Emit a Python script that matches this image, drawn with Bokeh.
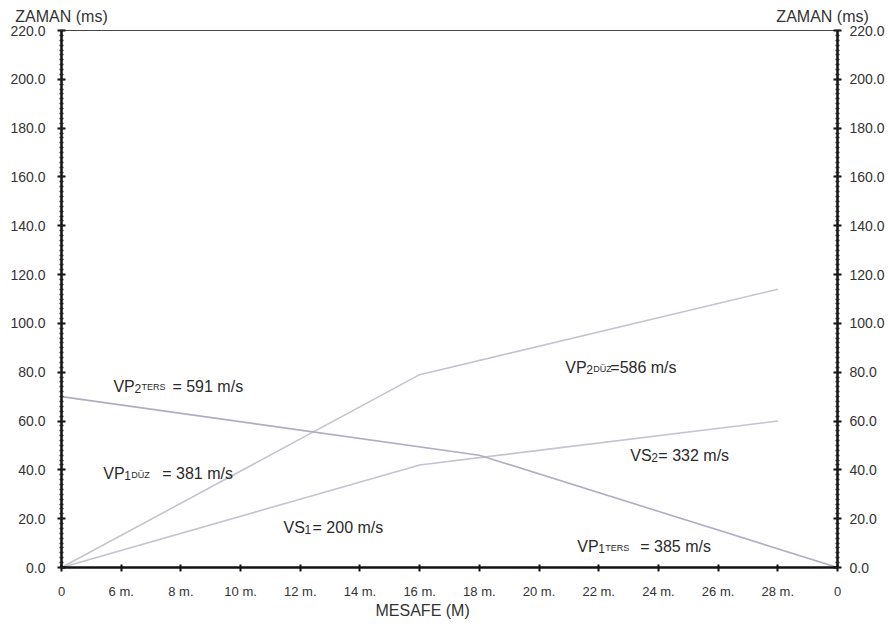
from bokeh.plotting import figure
from bokeh.models import Range1d, LinearAxis, FixedTicker, NumeralTickFormatter, ColumnDataSource
from bokeh.core.properties import value
from bokeh.embed import file_html
from bokeh.resources import INLINE

FONT = "Liberation Sans"

# distance stations along the spread (index positions 0..13)
x_tick_labels = ["0", "6 m.", "8 m.", "10 m.", "12 m.", "14 m.", "16 m.",
                 "18 m.", "20 m.", "22 m.", "24 m.", "26 m.", "28 m.", "0"]

# travel-time branches (station index, time in ms)
vp_forward_x = [0, 6, 12]
vp_forward_t = [0.0, 79.0, 114.0]

vs_x = [0, 6, 12]
vs_t = [0.0, 42.0, 60.0]

vp_reverse_x = [0, 7, 13]
vp_reverse_t = [70.0, 46.0, 0.0]

# velocity annotations
ann_main = ["VP", "VP", "VP", "VS", "VS", "VP"]
ann_digit = ["2", "1", "2", "2", "1", "1"]
ann_suffix = ["TERS", "DÜZ", "DÜZ", "", "", "TERS"]
ann_value = ["= 591  m/s", "= 381  m/s", "=586  m/s", "= 332  m/s", "= 200  m/s", "= 385  m/s"]

# anchor of each annotation (station index, ms) and offset of the value part (px)
ann_pos_x = [0.87, 0.70, 8.44, 9.53, 3.72, 8.64]
ann_pos_y = [74.2, 38.5, 81.9, 45.9, 16.4, 8.6]
ann_value_dx = [59, 59, 45, 28, 29, 63]

time_title = "ZAMAN (ms)"
dist_title = "MESAFE (M)"

Y_TICKS = list(range(0, 221, 20))
Y_MINOR = list(range(0, 221, 2))

p = figure(width=888, height=640, output_backend="svg", toolbar_location=None,
           x_range=Range1d(0, 13), y_range=Range1d(0, 220),
           min_border_left=61, min_border_right=51, min_border_top=30, min_border_bottom=73)
p.background_fill_color = "white"
p.border_fill_color = "white"
p.outline_line_color = "#444444"
p.outline_line_width = 1
p.xgrid.visible = False
p.ygrid.visible = False


def style_y(ax):
    ax.ticker = FixedTicker(ticks=Y_TICKS, minor_ticks=Y_MINOR)
    ax.formatter = NumeralTickFormatter(format="0.0")
    ax.axis_line_width = 2.5
    ax.axis_line_color = "#111111"
    ax.major_tick_in = 4
    ax.major_tick_out = 4
    ax.major_tick_line_width = 2
    ax.major_tick_line_color = "#111111"
    ax.minor_tick_in = 2
    ax.minor_tick_out = 2
    ax.minor_tick_line_width = 1.5
    ax.minor_tick_line_color = "#222222"
    ax.major_label_text_font = FONT
    ax.major_label_text_font_size = "14px"
    ax.major_label_text_color = "#333333"


style_y(p.yaxis[0])
p.yaxis[0].major_label_standoff = 12

ry = LinearAxis()
style_y(ry)
ry.major_label_standoff = 8
p.add_layout(ry, "right")

xa = p.xaxis[0]
xa.ticker = FixedTicker(ticks=list(range(len(x_tick_labels))))
xa.major_label_overrides = {i: t for i, t in enumerate(x_tick_labels)}
xa.axis_line_width = 2.5
xa.axis_line_color = "#111111"
xa.major_tick_in = 3
xa.major_tick_out = 4
xa.major_tick_line_width = 2
xa.major_tick_line_color = "#111111"
xa.minor_tick_line_color = None
xa.major_label_standoff = 12
xa.major_label_text_font = FONT
xa.major_label_text_font_size = "13px"
xa.major_label_text_color = "#333333"


def caption_axis(ticks, labels, standoff):
    """A bare axis used only to place caption texts outside the plot area."""
    ax = LinearAxis(ticker=FixedTicker(ticks=ticks, minor_ticks=[]))
    ax.major_label_overrides = {t: s for t, s in zip(ticks, labels)}
    ax.axis_line_color = None
    ax.major_tick_line_color = None
    ax.minor_tick_line_color = None
    ax.major_tick_in = 0
    ax.major_tick_out = 0
    ax.major_label_standoff = standoff
    ax.major_label_text_font = FONT
    ax.major_label_text_font_size = "16px"
    ax.major_label_text_color = "#333333"
    return ax


# time captions over both vertical axes
p.add_layout(caption_axis([0, 12.75], [time_title, time_title], 6), "above")
# distance caption under the station labels
p.add_layout(caption_axis([6.05], [dist_title], 0), "below")

# travel-time curves
p.line(vp_forward_x, vp_forward_t, line_color="#c4c4ce", line_width=1.6)
p.line(vs_x, vs_t, line_color="#c4c4ce", line_width=1.6)
p.line(vp_reverse_x, vp_reverse_t, line_color="#aeaec2", line_width=1.6)

# velocity labels built from a main part, subscript digit/suffix and value
px, py, pt, pdx, pdy, psz = [], [], [], [], [], []
for i in range(len(ann_main)):
    x0, y0 = ann_pos_x[i], ann_pos_y[i]
    parts = [(ann_main[i], 0, 0, "16px"),
             (ann_digit[i], 21, 2, "12px")]
    if ann_suffix[i]:
        parts.append((ann_suffix[i], 28, 1, "9px"))
    parts.append((ann_value[i], ann_value_dx[i], 0, "16px"))
    for t, dx, dy, sz in parts:
        px.append(x0)
        py.append(y0)
        pt.append(t)
        pdx.append(dx)
        pdy.append(dy)
        psz.append(sz)

src = ColumnDataSource(dict(x=px, y=py, text=pt, dx=pdx, dy=pdy, size=psz))
p.text(x="x", y="y", text="text", x_offset="dx", y_offset="dy", source=src,
       text_font=value(FONT), text_font_size="size", text_color="#2a2a2a",
       text_align="left", text_baseline="alphabetic")

open("out.html", "w").write(file_html(p, INLINE))
